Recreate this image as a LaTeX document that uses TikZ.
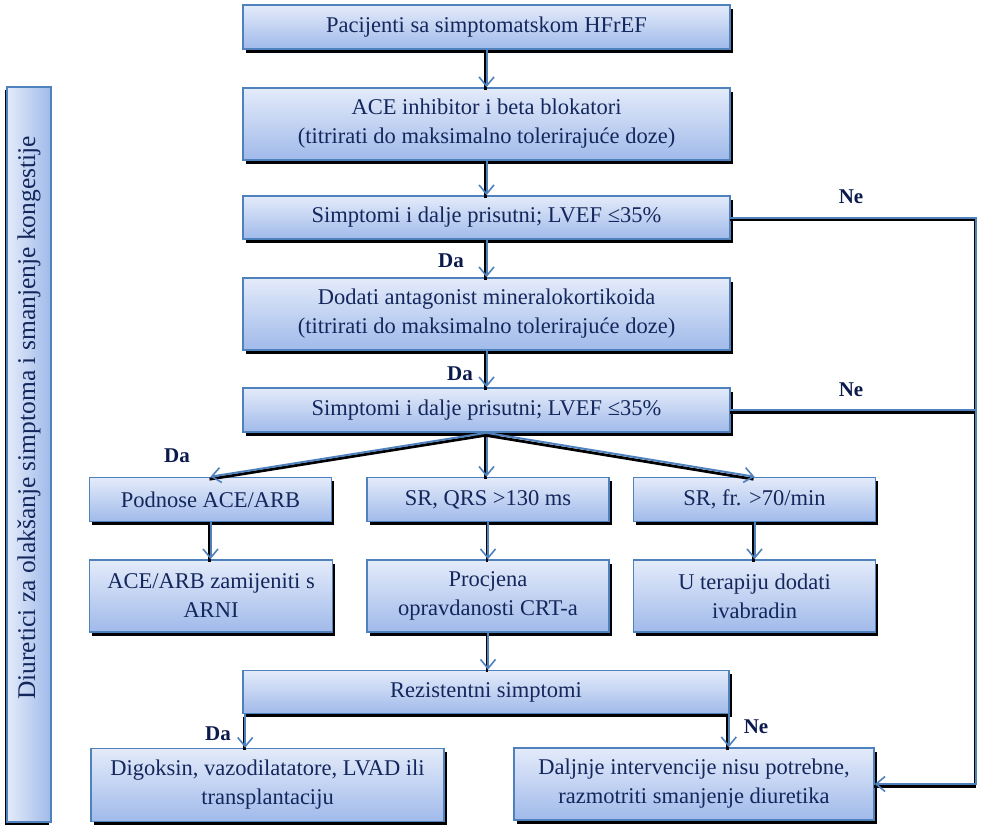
\documentclass[tikz,border=0pt]{standalone}
\usepackage{fontspec}
\setmainfont{Liberation Serif}
\usetikzlibrary{arrows.meta,shadows,calc}
\definecolor{boxline}{HTML}{4F81BD}
\definecolor{boxtop}{HTML}{E4EBFA}
\definecolor{boxbot}{HTML}{A0BAEA}
\definecolor{txt}{HTML}{14275C}
\definecolor{lbl}{HTML}{0B1A4D}
\begin{document}
\begin{tikzpicture}[x=1pt,y=-1pt,
  box/.style={draw=boxline, line width=1.6pt, top color=boxtop, bottom color=boxbot,
    text=txt, font=\fontsize{22.5}{29}\selectfont, align=center, inner sep=0pt,
    drop shadow={shadow xshift=2.5pt, shadow yshift=-3.5pt, fill=black, opacity=1}},
  sidebox/.style={draw=boxline, line width=1.6pt, left color=boxtop, right color=boxbot,
    inner sep=0pt,
    drop shadow={shadow xshift=-2.5pt, shadow yshift=-3pt, fill=black, opacity=1}},
  conn/.style={draw=boxline, line width=2pt,
    preaction={draw=black, -, line width=2.8pt, transform canvas={shift={(-1pt,-2.5pt)}}}},
  arr/.style={conn, -{Straight Barb[length=9pt,width=15pt,line width=1.6pt]}},
  lab/.style={text=lbl, font=\fontsize{21}{24}\selectfont\bfseries, inner sep=0pt}
]
\useasboundingbox[fill=white] (0,0) rectangle (984,833);

% side box
\node[sidebox, minimum width=44pt, minimum height=735pt] (side) at (29,454.5) {};
\node[text=txt, font=\fontsize{25.5}{30}\selectfont, rotate=90, inner sep=0pt] (sidetxt) at (29,418)
  {Diuretici za olakšanje simptoma i smanjenje kongestije};

% main column
\node[box, minimum width=487pt, minimum height=44pt] (b1) at (486.5,27) {Pacijenti sa simptomatskom HFrEF};
\node[box, minimum width=487pt, minimum height=72pt] (b2) at (486.5,124) {ACE inhibitor i beta blokatori\\(titrirati do maksimalno tolerirajuće doze)};
\node[box, minimum width=487pt, minimum height=43pt] (b3) at (486.5,217.5) {Simptomi i dalje prisutni; LVEF ≤35\%};
\node[box, minimum width=487pt, minimum height=72pt] (b4) at (486.5,314) {Dodati antagonist mineralokortikoida\\(titrirati do maksimalno tolerirajuće doze)};
\node[box, minimum width=487pt, minimum height=44pt] (b5) at (486.5,410) {Simptomi i dalje prisutni; LVEF ≤35\%};

% row 1
\node[box, minimum width=242pt, minimum height=44pt] (b6) at (210.5,499.5) {Podnose ACE/ARB};
\node[box, minimum width=242pt, minimum height=44pt] (b7) at (488,499.5) {SR, QRS >130 ms};
\node[box, minimum width=242pt, minimum height=44pt] (b8) at (754.5,499.5) {SR, fr. >70/min};

% row 2
\node[box, minimum width=243pt, minimum height=72pt] (b9) at (211,596) {ACE/ARB zamijeniti s\\ARNI};
\node[box, minimum width=242pt, minimum height=72pt] (b10) at (488,596) {Procjena\\opravdanosti CRT-a};
\node[box, minimum width=242pt, minimum height=72pt] (b11) at (754.5,596) {U terapiju dodati\\ivabradin};

% bottom
\node[box, minimum width=486pt, minimum height=43pt] (b12) at (486,692) {Rezistentni simptomi};
\node[box, minimum width=353pt, minimum height=73pt] (b13) at (267.5,785) {Digoksin, vazodilatatore, LVAD ili\\transplantaciju};
\node[box, minimum width=360pt, minimum height=72pt] (b14) at (694,784) {Daljnje intervencije nisu potrebne,\\razmotriti smanjenje diuretika};

% connectors
\draw[arr] (b1) -- (b2);
\draw[arr] (b2) -- (b3);
\draw[arr] (b3) -- (b4);
\draw[arr] (b4) -- (b5);
\draw[arr] (b5.south) -- (b6.north);
\draw[arr] (b5.south) -- (b5.south |- b7.north);
\draw[arr] (b5.south) -- (b8.north);
\draw[arr] (b6) -- (b6 |- b9.north);
\draw[arr] (b7) -- (b10);
\draw[arr] (b8) -- (b11);
\draw[arr] (b10.south) -- (b10.south |- b12.north);
\draw[arr] ([xshift=3pt]b12.south west) -- ([xshift=3pt]b12.south west |- b13.north);
\draw[arr] ([xshift=-1pt]b12.south east) -- ([xshift=-1pt]b12.south east |- b14.north);

\coordinate (r1) at (976,217.5);
\coordinate (r2) at (976,784);
\draw[arr] (b3.east) -- (r1) -- (r2) -- (b14.east);
\draw[conn] (b5.east) -- (b5.east -| r1);

% labels
\node[lab] (ne1) at (851,197) {Ne};
\node[lab] (ne2) at (851,390) {Ne};
\node[lab] (da1) at (451,261) {Da};
\node[lab] (da2) at (460,374) {Da};
\node[lab] (da3) at (177,456) {Da};
\node[lab] (da4) at (218,734) {Da};
\node[lab] (ne3) at (756,727) {Ne};
\end{tikzpicture}
\end{document}
